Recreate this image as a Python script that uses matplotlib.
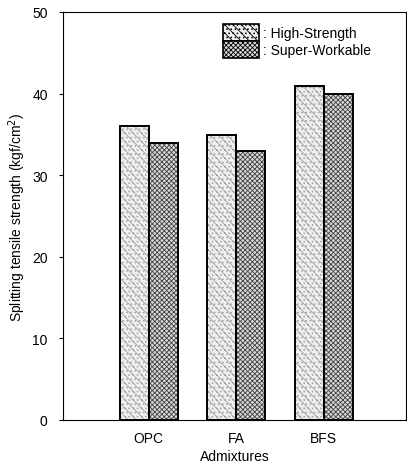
import numpy as np
import matplotlib.pyplot as plt
from matplotlib.patches import Patch

plt.rcParams['font.family'] = ['Liberation Sans', 'DejaVu Sans']
plt.rcParams['hatch.linewidth'] = 0.6

categories = ['OPC', 'FA', 'BFS']
high_strength = [36, 34.9, 40.9]
super_workable = [34, 33, 39.9]

fig = plt.figure(figsize=(4.07, 4.64), dpi=100)
ax = fig.add_axes([63 / 407, 43 / 464, 343 / 407, 408 / 464])

x = np.arange(len(categories))
w = 0.33
hs_style = dict(facecolor='#efefef', edgecolor='#a0a0a0', hatch='\\\\\\\\....')
sw_style = dict(facecolor='#dadada', edgecolor='#404040', hatch='xxxxxxx')

# fill with hatch first, then black outline on top
ax.bar(x - w / 2, high_strength, w, linewidth=0, **hs_style)
ax.bar(x + w / 2, super_workable, w, linewidth=0, **sw_style)
ax.bar(x - w / 2, high_strength, w, fill=False, edgecolor='black', linewidth=1.4)
ax.bar(x + w / 2, super_workable, w, fill=False, edgecolor='black', linewidth=1.4)

ax.set_xlim(-0.98, 2.94)
ax.set_ylim(0, 50)
ax.set_yticks([0, 10, 20, 30, 40, 50])
ax.set_xticks(x)
ax.set_xticklabels(categories)
ax.tick_params(axis='x', length=0, labelsize=10, pad=8)
ax.tick_params(axis='y', direction='out', length=3, labelsize=10, pad=8)
ax.set_xlabel('Admixtures', fontsize=10, labelpad=3)
ax.set_ylabel('Splitting tensile strength (kgf/cm$^2$)', fontsize=10, labelpad=3)

handles = [Patch(linewidth=1.2, **{**hs_style, 'edgecolor': 'black'}),
           Patch(linewidth=1.2, **{**sw_style, 'edgecolor': 'black'})]
ax.legend(handles, [': High-Strength', ': Super-Workable'], loc='upper left',
          bbox_to_anchor=(0.45, 0.985), frameon=False, fontsize=10,
          handlelength=2.6, handleheight=1.5, handletextpad=0.3,
          labelspacing=0.0, borderaxespad=0)

fig.savefig('out.png', dpi=100)
